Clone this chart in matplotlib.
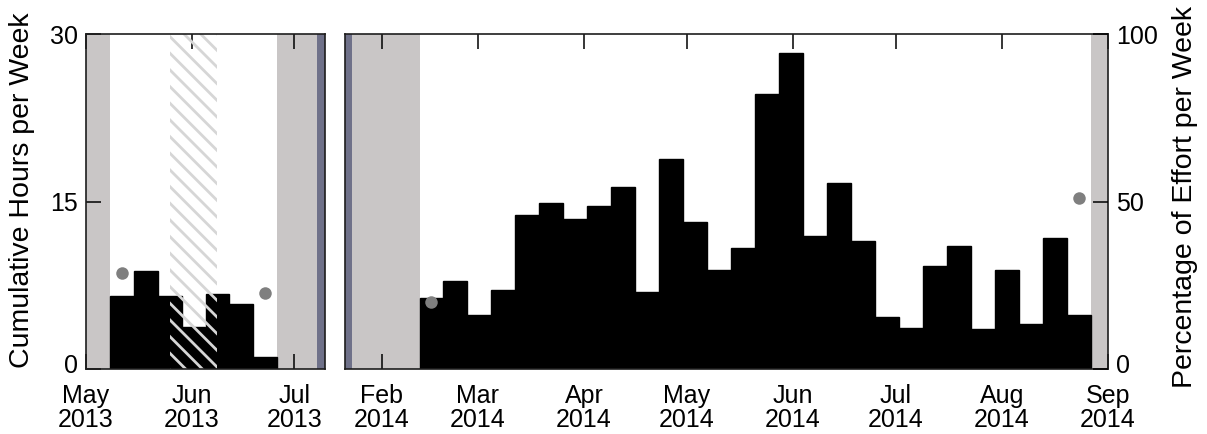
"""Weekly effort: cumulative hours per week, two field seasons."""

import pandas as pd
import matplotlib
matplotlib.use("Agg")
import matplotlib.pyplot as plt
import matplotlib.dates as mdates
from matplotlib.transforms import ScaledTranslation

plt.rcParams["font.family"] = ["Liberation Sans", "DejaVu Sans"]
plt.rcParams["hatch.linewidth"] = 2.0

# season 1 (2013)
weeks_2013_start = "2013-05-08"
hours_2013 = [6.5, 8.8, 6.5, 3.8, 6.7, 5.8, 1.1]
# season 2 (2014)
weeks_2014_start = "2014-02-12"
hours_2014 = [6.4, 7.9, 4.8, 7.1, 13.8, 14.9, 13.4, 14.6, 16.3, 6.9,
              18.8, 13.2, 8.9, 10.8, 24.6, 28.3, 11.9, 16.7, 11.5, 4.7,
              3.7, 9.2, 11.0, 3.6, 8.9, 4.0, 11.7, 4.8]

# percentage of effort (grey dots)
effort_dates_2013 = ["2013-05-11 12:00", "2013-06-22 12:00"]
effort_pct_2013 = [28.7, 22.7]
effort_dates_2014 = ["2014-02-15 12:00", "2014-08-23 12:00"]
effort_pct_2014 = [20.0, 51.0]

# shaded periods (no survey) and axis break markers
xlim_2013 = ("2013-05-01", "2013-07-10")
xlim_2014 = ("2014-01-21 06:00", "2014-09-01")
grey_2013 = [("2013-05-01", "2013-05-08"), ("2013-06-26", "2013-07-10")]
grey_2014 = [("2014-01-21 06:00", "2014-02-12"), ("2014-08-27", "2014-09-01")]
break_2013 = ("2013-07-07 16:00", "2013-07-10")
break_2014 = ("2014-01-21 06:00", "2014-01-23 06:00")
hatch_2013 = ("2013-05-25 12:00", "2013-06-08 12:00")

ticks_2013 = ["2013-05-01", "2013-06-01", "2013-07-01"]
ticks_2014 = ["2014-02-01", "2014-03-01", "2014-04-01", "2014-05-01",
              "2014-06-01", "2014-07-01", "2014-08-01", "2014-09-01"]

GREY = "#c9c6c6"
BREAK = "#6f7189"
DOT = "#7f7f7f"
W, H = 1207, 434

fig = plt.figure(figsize=(W / 100, H / 100), dpi=100)
ax1 = fig.add_axes([86 / W, 65 / H, 239 / W, 335 / H])
ax2 = fig.add_axes([345 / W, 65 / H, 763 / W, 335 / H])


def ts(s):
    return pd.Timestamp(s)


def draw_season(ax, start, hours, greys, brk, xlim, ticks):
    weeks = pd.date_range(start, periods=len(hours), freq="7D")
    for a, b in greys:
        ax.axvspan(ts(a), ts(b), color=GREY, lw=0, zorder=0)
    ax.axvspan(ts(brk[0]), ts(brk[1]), color=BREAK, lw=0, zorder=0.5)
    ax.bar(weeks, hours, width=7, align="edge", color="black",
           edgecolor="black", linewidth=1.0, zorder=1)
    ax.set_xlim(ts(xlim[0]), ts(xlim[1]))
    ax.set_ylim(0, 30)
    ax.set_xticks([ts(t) for t in ticks])
    ax.xaxis.set_major_formatter(mdates.DateFormatter("%b\n%Y"))
    ax.tick_params(axis="x", direction="in", top=True, length=11, width=1.1,
                   labelsize=18, pad=11)
    for lab in ax.get_xticklabels():
        lab.set_linespacing(1.0)
    for sp in ax.spines.values():
        sp.set_color("#1e1e1e")
        sp.set_linewidth(1.2)
        sp.set_zorder(5)


draw_season(ax1, weeks_2013_start, hours_2013, grey_2013, break_2013,
            xlim_2013, ticks_2013)
draw_season(ax2, weeks_2014_start, hours_2014, grey_2014, break_2014,
            xlim_2014, ticks_2014)

# closed survey period, hatched
ax1.axvspan(ts(hatch_2013[0]), ts(hatch_2013[1]), facecolor="none",
            edgecolor="#d6d6d6", hatch="\\\\", lw=0, zorder=2)

ax1.set_yticks([0, 15, 30])
ax1.tick_params(axis="y", direction="in", length=11, width=1.1,
                labelsize=18, pad=6)
ax2.set_yticks([])

# percentage axes
tw1 = ax1.twinx()
tw1.set_ylim(0, 100)
tw1.set_yticks([])
tw2 = ax2.twinx()
tw2.set_ylim(0, 100)
tw2.set_yticks([0, 50, 100])
tw2.tick_params(axis="y", direction="in", length=11, width=1.1,
                labelsize=18, pad=6)
for tw in (tw1, tw2):
    for sp in tw.spines.values():
        sp.set_visible(False)

# lift the bottom "0" labels a little so they clear the date labels
lift = ScaledTranslation(0, 4 / 72, fig.dpi_scale_trans)
ax1.yaxis.get_major_ticks()[0].label1.set_transform(
    ax1.yaxis.get_major_ticks()[0].label1.get_transform() + lift)
tw2.yaxis.get_major_ticks()[0].label2.set_transform(
    tw2.yaxis.get_major_ticks()[0].label2.get_transform() + lift)

tw1.plot([ts(d) for d in effort_dates_2013], effort_pct_2013, "o",
         color=DOT, ms=9, mec="none", zorder=6)
tw2.plot([ts(d) for d in effort_dates_2014], effort_pct_2014, "o",
         color=DOT, ms=9, mec="none", zorder=6)

fig.text(22 / W, 1 - 190 / H, "Cumulative Hours per Week", rotation=90,
         ha="center", va="center", fontsize=20.5)
fig.text(1185 / W, 1 - 197 / H, "Percentage of Effort per Week", rotation=90,
         ha="center", va="center", fontsize=20.5)

fig.savefig("out.png", dpi=100)
